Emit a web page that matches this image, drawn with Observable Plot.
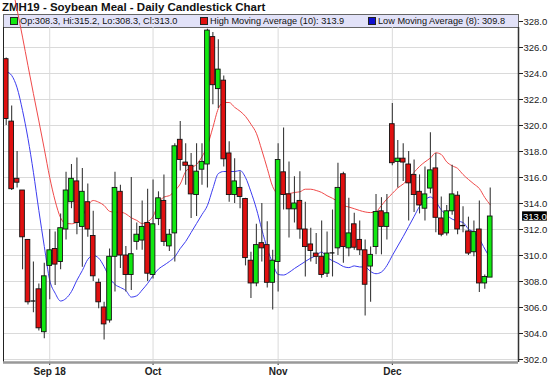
<!DOCTYPE html>
<html><head><meta charset="utf-8">
<script src="https://cdn.jsdelivr.net/npm/d3@7"></script>
<script src="https://cdn.jsdelivr.net/npm/@observablehq/plot@0.6"></script>
<style>
body{margin:0;background:#fff;font-family:"Liberation Sans",Arial,sans-serif;}
#wrap{position:relative;width:554px;height:379px;overflow:hidden;background:#fff}
#title{position:absolute;left:2px;top:0px;font-weight:bold;font-size:11.5px;line-height:14px;color:#111;white-space:nowrap}
#legend{position:absolute;left:3px;top:14px;width:514px;height:12px;background:#e2e2f8;border:1px solid #666;font-size:9.2px;color:#111}
#legend .sw{position:absolute;top:2px;width:6px;height:6px;border:1px solid #222}
#legend .lt{position:absolute;top:0px;line-height:12px;white-space:nowrap}
#chart{position:absolute;left:0;top:27px}
#chart svg{overflow:visible}
#chart [aria-label^="x-axis"] text{font-weight:bold;font-size:10px}
</style></head>
<body><div id="wrap">
<div id="title">ZMH19 - Soybean Meal - Daily Candlestick Chart</div>
<div id="legend"></div>
<div id="chart"></div>
</div>
<script>
const opens  = [325.1,320.3,315.9,315.0,311.2,306.5,307.4,304.1,309.2,310.5,309.5,312.0,314.1,315.7,312.2,314.1,311.5,307.9,306.0,305.0,309.9,314.9,310.0,308.5,311.05,311.15,312.5,308.5,312.8,314.2,310.7,311.7,318.9,317.15,316.9,314.65,316.6,317.0,326.8,322.8,323.45,317.85,314.65,315.2,314.35,309.6,307.85,310.95,310.8,307.9,309.5,316.4,314.7,313.55,314.2,312.0,310.85,310.15,309.9,308.6,310.2,310.55,316.25,310.55,312.4,311.2,310.4,309.15,310.65,313.4,312.2,320.1,317.2,317.45,317.0,316.2,314.9,313.6,315.15,316.7,312.85,311.7,313.4,314.6,312.3,311.85,310.25,312.0,307.85,308.3];
const highs  = [325.2,321.5,318.0,315.0,311.2,309.5,307.8,309.4,312.0,311.8,313.2,316.4,317.0,317.5,316.7,315.5,313.4,308.2,306.4,310.5,316.4,315.4,310.7,316.0,312.5,314.2,315.1,315.8,314.9,316.2,312.0,318.6,320.3,318.6,317.85,318.6,318.6,327.4,327.15,326.6,323.8,318.75,317.45,316.45,314.4,310.25,312.4,314.0,312.6,310.4,318.6,319.8,317.2,316.05,316.45,314.1,312.1,311.7,312.65,311.8,313.5,317.1,316.4,314.4,313.25,312.65,311.2,310.65,314.7,314.45,314.7,321.7,318.85,318.6,318.0,317.35,316.2,316.8,319.45,317.85,314.5,313.85,316.95,314.9,313.75,312.95,312.65,314.2,308.5,315.2];
const lows   = [320.0,315.0,315.2,308.9,306.2,305.6,304.2,303.6,306.6,307.7,308.9,311.2,313.6,311.6,309.1,311.4,308.0,305.9,303.5,304.8,307.2,309.0,307.2,307.3,310.4,310.4,308.0,308.2,312.3,310.7,310.3,309.5,316.5,315.4,312.85,313.0,315.4,315.2,321.6,321.3,316.8,314.1,314.0,313.6,309.2,306.7,307.6,309.5,307.5,305.8,307.2,313.5,311.35,312.5,311.25,308.35,309.5,309.3,308.25,308.3,308.35,310.0,309.4,309.9,310.4,310.0,305.35,306.4,310.05,310.05,311.2,316.9,315.2,315.7,312.65,313.3,313.2,312.65,314.75,311.75,311.45,311.5,313.1,311.6,311.75,310.0,309.9,307.15,307.4,308.3];
const closes = [320.5,315.1,315.6,311.4,306.4,306.5,304.4,308.4,310.4,309.3,312.1,315.0,315.9,312.5,314.9,312.0,308.4,306.4,304.7,309.9,315.2,310.0,308.5,310.1,311.6,312.2,308.6,312.4,314.4,311.05,311.6,318.4,317.35,316.9,314.7,316.45,317.2,327.3,323.1,324.3,317.4,314.65,315.7,314.5,309.8,307.85,310.8,310.55,307.9,309.6,317.35,314.65,313.55,314.0,312.0,310.65,310.35,309.9,308.5,310.15,310.2,315.2,310.65,311.7,310.6,310.4,307.75,310.05,313.35,312.2,313.25,317.1,317.45,317.15,315.55,314.65,313.85,314.7,316.55,312.9,311.6,313.4,314.7,312.0,312.3,310.15,311.8,307.85,308.35,313.0];
const highMA = [333.5,331.0,328.9,326.8,324.6,322.45,320.35,318.2,316.0,314.2,312.9,312.46,312.44,312.56,313.0,313.85,314.23,314.1,313.85,313.4,313.33,313.33,313.2,312.9,312.7,312.46,312.6,313.0,314.0,314.5,314.6,315.0,315.5,316.46,316.77,317.0,317.6,318.46,319.85,321.3,321.77,321.77,321.4,321.1,320.7,320.1,319.4,318.1,316.7,315.3,314.77,314.77,314.77,314.85,314.9,315.1,315.1,315.0,314.85,314.6,314.4,314.15,313.85,313.73,313.6,313.46,313.35,313.3,313.38,313.85,314.35,314.77,315.2,315.5,315.9,316.4,316.85,317.2,317.5,317.9,317.77,317.2,316.9,316.7,316.23,315.85,315.5,315.15,314.46,313.9];
const lowMA  = [324.15,323.85,322.9,321.15,319.0,316.4,313.46,310.7,308.1,307.1,306.5,306.7,307.23,308.1,308.85,309.7,310.0,309.8,309.15,308.3,307.77,307.54,307.3,306.8,306.9,307.35,307.85,308.46,308.96,309.25,309.54,309.9,310.54,311.08,311.77,312.46,313.15,313.85,315.15,316.3,316.46,316.46,316.46,316.54,316.0,314.9,313.6,312.0,310.54,309.4,308.54,308.5,308.7,309.0,309.27,309.54,309.8,310.0,310.27,309.85,309.6,309.4,309.15,309.07,309.2,309.12,309.12,308.77,308.6,308.73,309.23,310.0,310.73,311.46,312.23,313.0,313.77,314.27,314.5,314.15,313.5,313.1,312.8,312.65,312.54,312.04,311.8,311.27,310.5,309.8];
const tickIdx = [8, 27, 50, 71];
const tickLabels = ["Sep 18", "Oct", "Nov", "Dec"];
const yTicks = d3.range(302, 328.1, 2);

const green = "#11e811", red = "#e01010";
const candles = opens.map((o, i) => ({i, o, h: highs[i], l: lows[i], c: closes[i]}));
const bodies = candles.filter(d => d.o !== d.c);
const dojis = candles.filter(d => d.o === d.c);
const last = candles[candles.length - 1];
const xDom = [-0.5, 94.2];
const yDom = [301.77, 328];

// legend (HTML, above chart)
const lg = document.getElementById("legend");
const items = [
  {left: 6, color: green, text: `Op:${last.o.toFixed(1)}, Hi:${last.h.toFixed(1)}, Lo:${last.l.toFixed(1)}, Cl:${last.c.toFixed(1)}`},
  {left: 196, color: red, text: `High Moving Average (10): ${highMA[highMA.length-1].toFixed(1)}`},
  {left: 364, color: "#1010d0", text: `Low Moving Average (8): ${lowMA[lowMA.length-1].toFixed(1)}`}
];
for (const it of items) {
  const sw = document.createElement("span"); sw.className = "sw";
  sw.style.left = it.left + "px"; sw.style.background = it.color; lg.appendChild(sw);
  const t = document.createElement("span"); t.className = "lt";
  t.style.left = (it.left + 10) + "px"; t.textContent = it.text; lg.appendChild(t);
}

const chart = Plot.plot({
  width: 554, height: 352,
  marginTop: 0, marginBottom: 17, marginLeft: 3, marginRight: 36,
  style: {fontFamily: "Liberation Sans, Arial, sans-serif", fontSize: "9.5px", color: "#222", background: "transparent", overflow: "visible"},
  x: {domain: xDom, range: [3, 518], axis: "bottom", ticks: tickIdx,
      tickFormat: d => tickLabels[tickIdx.indexOf(d)], tickSize: 3, tickPadding: 2, label: null},
  y: {domain: yDom, range: [335, -6], axis: "right", ticks: yTicks,
      tickFormat: d => d.toFixed(1), tickSize: 4, tickPadding: 1, label: null},
  marks: [
    Plot.ruleY(yTicks.filter(v => v < 328), {stroke: "#dadada"}),
    Plot.ruleX(tickIdx, {stroke: "#dadada"}),
    Plot.line(highMA, {x: (d, i) => i, y: d => d, stroke: "#f04a4a", strokeWidth: 1, curve: "monotone-x"}),
    Plot.line(lowMA, {x: (d, i) => i, y: d => d, stroke: "#3c3cf0", strokeWidth: 1, curve: "monotone-x"}),
    Plot.ruleX(candles, {x: "i", y1: "l", y2: "h", stroke: "#3a3a3a", strokeWidth: 1.1}),
    Plot.rect(bodies, {x1: d => d.i - 0.43, x2: d => d.i + 0.43, y1: "o", y2: "c",
      fill: d => d.c > d.o ? green : red, stroke: "#111", strokeWidth: 0.9}),
    Plot.ruleY(dojis, {x1: d => d.i - 0.45, x2: d => d.i + 0.45, y: "o", stroke: "#111", strokeWidth: 1.3}),
    Plot.ruleX([xDom[0]], {stroke: "#222", strokeWidth: 1}),
    Plot.ruleX([xDom[1]], {stroke: "#333", strokeWidth: 1.5}),
    Plot.ruleY([yDom[0]], {stroke: "#999", strokeWidth: 2.5}),
    Plot.rect([last], {x1: xDom[1] + 0.75, x2: xDom[1] + 5.3, y1: d => d.c - 0.36, y2: d => d.c + 0.36, fill: "#000"}),
    Plot.text([last], {x: xDom[1], y: "c", text: d => d.c.toFixed(1), dx: 4.5, textAnchor: "start", fill: "#fff", fontSize: 9.5})
  ]
});
document.getElementById("chart").appendChild(chart);
</script>
</body></html>
